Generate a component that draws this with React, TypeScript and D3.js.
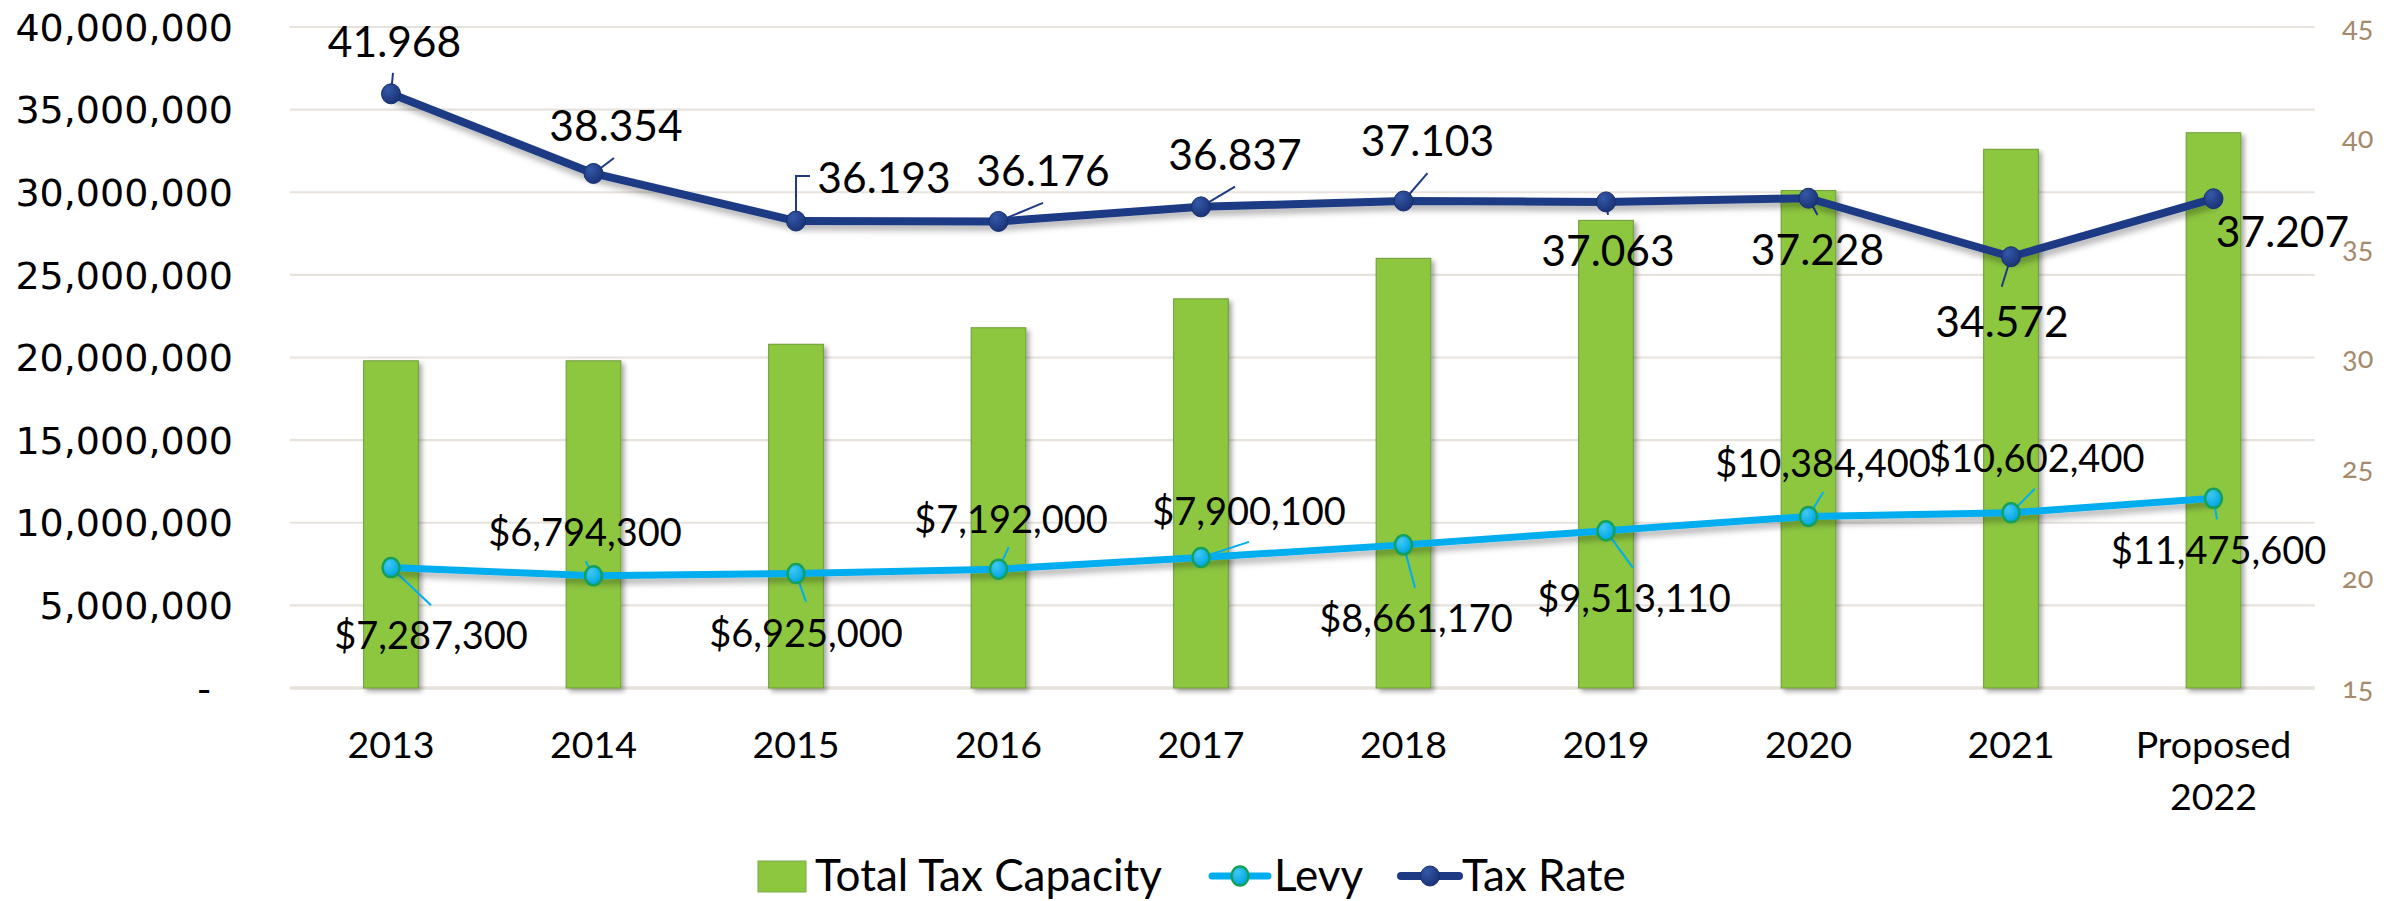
import React, { useEffect } from "react";
import * as d3 from "d3";

const categories = ["2013", "2014", "2015", "2016", "2017", "2018", "2019", "2020", "2021", "Proposed 2022"];
const totalTaxCapacity = [19800000, 19800000, 20800000, 21800000, 23550000, 26000000, 28300000, 30100000, 32600000, 33600000];
const levy = [7287300, 6794300, 6925000, 7192000, 7900100, 8661170, 9513110, 10384400, 10602400, 11475600];
const taxRate = [41.968, 38.354, 36.193, 36.176, 36.837, 37.103, 37.063, 37.228, 34.572, 37.207];
const leftTicks = [0, 5000000, 10000000, 15000000, 20000000, 25000000, 30000000, 35000000, 40000000];
const rightTicks = [15, 20, 25, 30, 35, 40, 45];

// label placement offsets relative to each point: [dx, dyBaseline, leaderDx, leaderDy]
const taxLabelPos: number[][] = [
  [3.5, -37, 2, -21],
  [22.5, -32, 20.5, -15.5],
  [88, -28.5, 14, -45],
  [44.5, -35.6, 44.5, -18.6],
  [34, -37, 34, -20.3],
  [24, -45, 24, -27.8],
  [2, 64, 2, 13],
  [9, 67, 9, 16.7],
  [-9, 80, -9.3, 30],
  [69, 48.5, 0, 0],
];
const levyLabelPos: number[][] = [
  [40, 81.6, 40, 37.6],
  [-8.5, -29.6, -7.8, -14.6],
  [10, 73.3, 10, 28.3],
  [12.5, -36, 10.2, -22],
  [48, -32.3, 48, -15.6],
  [12.5, 87, 11.5, 43],
  [28, 81, 27, 37.1],
  [14.5, -39.4, 14.8, -24.4],
  [25.7, -40.8, 24, -24.2],
  [5, 65.2, 3.5, 20.9],
];

const W = 2405;
const H = 901;
const LABEL_FONT = "Lato, 'Open Sans', sans-serif";
const BAR_GREEN = "#8DC73F";
const NAVY = "#1E3A84";
const CYAN = "#00AEEF";
const GRID = "#E7E2DB";

export default function App() {
  useEffect(() => {
    document.body.style.margin = "0";
    document.body.style.overflow = "hidden";
  }, []);

  const x = d3
    .scaleBand<string>()
    .domain(categories)
    .range([289.75, 2314.75])
    .paddingInner(0.73)
    .paddingOuter(0.365);
  const yL = d3.scaleLinear().domain([0, 40000000]).range([688, 27]);
  const yR = d3.scaleLinear().domain([15, 45]).range([688, 27]);
  const cx = (c: string) => (x(c) as number) + x.bandwidth() / 2;

  const fmtAxis = d3.format(",");
  const fmtLevy = d3.format("$,");
  const fmtRate = d3.format(".3f");

  const taxPath = d3
    .line<number>()
    .x((_, i) => cx(categories[i]))
    .y((d) => yR(d))(taxRate) as string;
  const levyPath = d3
    .line<number>()
    .x((_, i) => cx(categories[i]))
    .y((d) => yL(d))(levy) as string;

  const [x0, x1] = x.range();

  return (
    <svg width={W} height={H} style={{ position: "absolute", left: 0, top: 0, background: "#fff" }}>
      <defs>
        <filter id="shadow" x="-20%" y="-20%" width="140%" height="140%">
          <feDropShadow dx="3" dy="3" stdDeviation="2.5" floodColor="#000" floodOpacity="0.35" />
        </filter>
        <filter id="lshadow" x="-5%" y="-20%" width="110%" height="140%">
          <feDropShadow dx="2" dy="5" stdDeviation="3" floodColor="#000" floodOpacity="0.3" />
        </filter>
        <radialGradient id="navyGrad" cx="35%" cy="30%" r="70%">
          <stop offset="0%" stopColor="#3458A8" />
          <stop offset="100%" stopColor="#1A3478" />
        </radialGradient>
        <radialGradient id="cyanGrad" cx="35%" cy="30%" r="70%">
          <stop offset="0%" stopColor="#40C8F5" />
          <stop offset="100%" stopColor="#00A6E2" />
        </radialGradient>
      </defs>

      {/* gridlines */}
      {leftTicks.map((t) => (
        <line key={t} x1={x0} x2={x1} y1={yL(t)} y2={yL(t)} stroke={GRID} strokeWidth={t === 0 ? 3.5 : 2.2} />
      ))}

      {/* left axis labels */}
      {leftTicks.map((t) => (
        <text
          key={"l" + t}
          x={t === 0 ? 211 : 233}
          y={yL(t)}
          dy="0.36em"
          textAnchor="end"
          fontFamily="'DejaVu Sans', Verdana, sans-serif"
          fontSize={38}
          fill="#000"
        >
          {t === 0 ? "-" : fmtAxis(t)}
        </text>
      ))}

      {/* right axis labels */}
      {rightTicks.map((t) => (
        <text
          key={"r" + t}
          x={2342}
          y={yR(t)}
          dy="0.36em"
          textAnchor="start"
          fontFamily={LABEL_FONT}
          fontSize={29}
          fill="#A58A6C"
          style={{ fontVariantNumeric: "oldstyle-nums" }}
        >
          {t}
        </text>
      ))}

      {/* bars */}
      {totalTaxCapacity.map((v, i) => (
        <rect
          key={"b" + i}
          x={x(categories[i])}
          y={yL(v)}
          width={x.bandwidth()}
          height={yL(0) - yL(v)}
          fill={BAR_GREEN}
          stroke="#6F9A3A"
          strokeWidth={1}
          filter="url(#shadow)"
        />
      ))}

      {/* category labels */}
      {categories.map((c) => {
        const parts = c.split(" ");
        return (
          <text key={"c" + c} x={cx(c)} y={758} textAnchor="middle" fontFamily={LABEL_FONT} fontSize={37.5} fill="#000">
            {parts.map((p, j) => (
              <tspan key={j} x={cx(c)} dy={j === 0 ? 0 : 52}>
                {p}
              </tspan>
            ))}
          </text>
        );
      })}

      {/* leader lines */}
      {taxRate.map((v, i) => {
        const px = cx(categories[i]);
        const py = yR(v);
        const p = taxLabelPos[i];
        if (i === 2) {
          return (
            <polyline
              key={"tl" + i}
              points={`${px},${py} ${px},${py + p[3]} ${px + p[2]},${py + p[3]}`}
              fill="none"
              stroke={NAVY}
              strokeWidth={2}
            />
          );
        }
        if (p[2] === 0 && p[3] === 0) return null;
        return <line key={"tl" + i} x1={px} y1={py} x2={px + p[2]} y2={py + p[3]} stroke={NAVY} strokeWidth={2} />;
      })}
      {levy.map((v, i) => {
        const px = cx(categories[i]);
        const py = yL(v);
        const p = levyLabelPos[i];
        return <line key={"ll" + i} x1={px} y1={py} x2={px + p[2]} y2={py + p[3]} stroke={CYAN} strokeWidth={2} />;
      })}

      {/* lines */}
      <path d={levyPath} fill="none" stroke={CYAN} strokeWidth={7} strokeLinejoin="round" filter="url(#lshadow)" />
      <path d={taxPath} fill="none" stroke={NAVY} strokeWidth={8} strokeLinejoin="round" filter="url(#lshadow)" />

      {/* markers */}
      {levy.map((v, i) => (
        <ellipse
          key={"lm" + i}
          cx={cx(categories[i])}
          cy={yL(v)}
          rx={8.5}
          ry={9.5}
          fill="url(#cyanGrad)"
          stroke="#15A05A"
          strokeWidth={2.5}
        />
      ))}
      {taxRate.map((v, i) => (
        <ellipse
          key={"tm" + i}
          cx={cx(categories[i])}
          cy={yR(v)}
          rx={9.5}
          ry={10}
          fill="url(#navyGrad)"
          stroke="#17306E"
          strokeWidth={1}
        />
      ))}

      {/* data labels */}
      {taxRate.map((v, i) => (
        <text
          key={"tt" + i}
          x={cx(categories[i]) + taxLabelPos[i][0]}
          y={yR(v) + taxLabelPos[i][1]}
          textAnchor="middle"
          fontFamily={LABEL_FONT}
          fontSize={42.5}
          fill="#000"
        >
          {fmtRate(v)}
        </text>
      ))}
      {levy.map((v, i) => (
        <text
          key={"lt" + i}
          x={cx(categories[i]) + levyLabelPos[i][0]}
          y={yL(v) + levyLabelPos[i][1]}
          textAnchor="middle"
          fontFamily={LABEL_FONT}
          fontSize={38}
          fill="#000"
        >
          {fmtLevy(v)}
        </text>
      ))}

      {/* legend */}
      <g>
        <rect x={758} y={861} width={48} height={31} fill={BAR_GREEN} stroke="#7FA84A" strokeWidth={1} />
        <text x={815} y={891} fontFamily={LABEL_FONT} fontSize={44} fill="#000">
          Total Tax Capacity
        </text>
        <line x1={1212} x2={1268} y1={876} y2={876} stroke={CYAN} strokeWidth={7} strokeLinecap="round" />
        <ellipse cx={1240} cy={876} rx={8.5} ry={9.5} fill="url(#cyanGrad)" stroke="#15A05A" strokeWidth={2.5} />
        <text x={1274} y={891} fontFamily={LABEL_FONT} fontSize={44} fill="#000">
          Levy
        </text>
        <line x1={1401} x2={1459} y1={876} y2={876} stroke={NAVY} strokeWidth={8} strokeLinecap="round" />
        <ellipse cx={1430} cy={876} rx={9.5} ry={10} fill="url(#navyGrad)" stroke="#17306E" strokeWidth={1} />
        <text x={1462} y={891} fontFamily={LABEL_FONT} fontSize={44} fill="#000">
          Tax Rate
        </text>
      </g>
    </svg>
  );
}
